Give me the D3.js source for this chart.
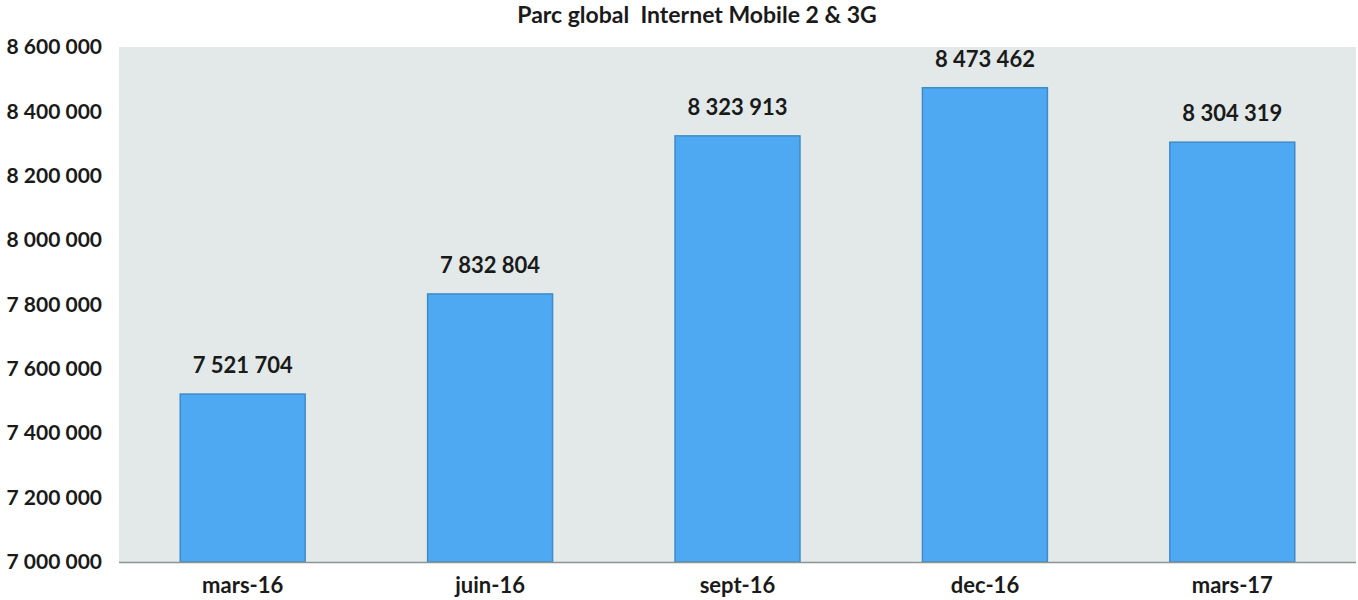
<!DOCTYPE html>
<html>
<head>
<meta charset="utf-8">
<script src="https://cdn.jsdelivr.net/npm/d3@7"></script>
<style>
  body { margin: 0; background: #fff; }
  svg { display: block; font-family: Lato, "Open Sans", sans-serif; }
</style>
</head>
<body>
<svg id="chart" width="1358" height="600"></svg>
<script>
// Parc global Internet Mobile 2 & 3G
const periods = ["mars-16", "juin-16", "sept-16", "dec-16", "mars-17"];
const subscribers = [7521704, 7832804, 8323913, 8473462, 8304319];
const yTicks = [7000000, 7200000, 7400000, 7600000, 7800000, 8000000, 8200000, 8400000, 8600000];

const width = 1358;
const height = 600;
const margin = { top: 47, right: 2, bottom: 38, left: 119 };

const svg = d3.select("#chart");
const fmt = (v) => d3.format(",")(v).replace(/,/g, " ");

const x = d3.scaleBand()
  .domain(periods)
  .range([margin.left, width - margin.right])
  .paddingInner(0.495)
  .paddingOuter(0.2475);

const y = d3.scaleLinear()
  .domain([7000000, 8600000])
  .range([height - margin.bottom, margin.top]);

// plot background
svg.append("rect")
  .attr("x", margin.left)
  .attr("y", margin.top)
  .attr("width", width - margin.right - margin.left)
  .attr("height", y(7000000) - margin.top)
  .attr("fill", "#e2e9e8");

// title (keeps the double space)
svg.append("text")
  .attr("x", 697)
  .attr("y", 23)
  .attr("text-anchor", "middle")
  .attr("font-size", 23)
  .attr("font-weight", 700)
  .attr("fill", "#1a1a1a")
  .style("white-space", "pre")
  .text("Parc global  Internet Mobile 2 & 3G");

// bars
svg.append("g")
  .selectAll("rect")
  .data(subscribers)
  .join("rect")
  .attr("x", (d, i) => x(periods[i]))
  .attr("y", (d) => y(d))
  .attr("width", x.bandwidth())
  .attr("height", (d) => y(7000000) - y(d))
  .attr("fill", "#4fa9f2")
  .attr("stroke", "#3d8cc9")
  .attr("stroke-width", 1.5);

// value labels
svg.append("g")
  .selectAll("text")
  .data(subscribers)
  .join("text")
  .attr("x", (d, i) => x(periods[i]) + x.bandwidth() / 2)
  .attr("y", (d) => y(d) - 21)
  .attr("text-anchor", "middle")
  .attr("font-size", 22)
  .attr("font-weight", 700)
  .attr("fill", "#1a1a1a")
  .text((d) => fmt(d));

// baseline
svg.append("line")
  .attr("x1", margin.left)
  .attr("x2", width - margin.right)
  .attr("y1", y(7000000) + 0.5)
  .attr("y2", y(7000000) + 0.5)
  .attr("stroke", "#8c9494")
  .attr("stroke-width", 1.5);

// y axis labels
const yAxis = d3.axisLeft(y).tickValues(yTicks).tickFormat(fmt).tickSize(0).tickPadding(0);
const yg = svg.append("g")
  .attr("transform", `translate(${102},0)`)
  .call(yAxis);
yg.select(".domain").remove();
yg.selectAll("text")
  .attr("font-size", 21)
  .attr("font-weight", 700)
  .attr("font-family", "Lato, 'Open Sans', sans-serif")
  .attr("fill", "#1a1a1a");

// x axis labels
const xAxis = d3.axisBottom(x).tickSize(0).tickPadding(0);
const xg = svg.append("g")
  .attr("transform", `translate(0,${y(7000000) + 15})`)
  .call(xAxis);
xg.select(".domain").remove();
xg.selectAll("text")
  .attr("font-size", 22)
  .attr("font-weight", 700)
  .attr("font-family", "Lato, 'Open Sans', sans-serif")
  .attr("fill", "#1a1a1a");
</script>
</body>
</html>
